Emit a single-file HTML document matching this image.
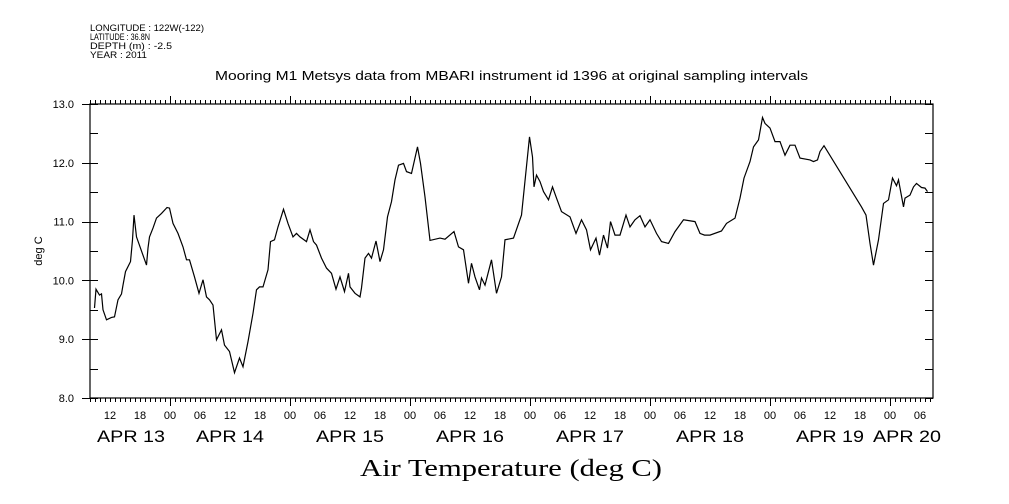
<!DOCTYPE html>
<html><head><meta charset="utf-8">
<style>
html,body{margin:0;padding:0;background:#fff;}
svg{display:block;}
text{font-family:"Liberation Sans",sans-serif;fill:#000;}
</style></head>
<body>
<svg id="chart" width="1009" height="504" viewBox="0 0 1009 504" xmlns="http://www.w3.org/2000/svg">
<g font-size="9">
<text x="90" y="31" textLength="114" lengthAdjust="spacingAndGlyphs">LONGITUDE : 122W(-122)</text>
<text x="90" y="40" textLength="60" lengthAdjust="spacingAndGlyphs">LATITUDE : 36.8N</text>
<text x="90" y="49" textLength="82" lengthAdjust="spacingAndGlyphs">DEPTH (m) : -2.5</text>
<text x="90" y="58" textLength="57" lengthAdjust="spacingAndGlyphs">YEAR : 2011</text>
</g>
<text x="215" y="80" font-size="13" textLength="593" lengthAdjust="spacingAndGlyphs">Mooring M1 Metsys data from MBARI instrument id 1396 at original sampling intervals</text>
<text x="42" y="251" font-size="11" text-anchor="middle" transform="rotate(-90 42 251)">deg C</text>
<text x="360" y="476" font-size="24" textLength="302" lengthAdjust="spacingAndGlyphs" style="font-family:'Liberation Serif',serif">Air Temperature (deg C)</text>
<g id="axes"></g>
<g id="series"></g>
</svg>
<script>
const hours=[0.9,1.2,1.9,2.3,2.6,3.3,4.3,4.9,5.6,6.3,6.6,7.1,8.1,8.5,8.8,9.3,11.3,11.6,11.9,12.6,13.3,14.3,15.4,15.9,16.6,17.6,18.6,19.3,19.9,20.9,21.8,22.6,23.3,23.9,24.6,25.3,26.3,26.9,27.9,28.9,29.9,30.6,31.6,32.6,33.3,33.9,34.6,35.6,36.1,36.9,37.6,38.7,39.6,40.6,41.3,42.0,43.3,44.0,44.7,45.3,46.3,47.3,48.3,49.2,50.0,50.9,51.7,52.0,53.0,54.0,54.3,55.0,55.7,56.3,57.2,58.0,58.7,59.5,60.3,61.0,61.7,62.7,63.3,64.3,65.5,66.1,67.0,68.0,70.0,71.0,72.8,73.7,74.7,75.7,76.3,77.0,77.9,78.3,79.0,80.3,81.3,82.3,83.0,84.7,86.3,87.9,88.5,88.8,89.3,90.0,90.7,91.7,92.5,93.3,94.3,96.0,97.2,98.3,99.3,100.1,101.2,101.9,102.7,103.5,104.1,105.0,106.0,107.2,108.0,109.0,110.0,111.0,112.0,113.3,114.3,115.7,117.0,118.7,121.0,122.0,122.9,124.0,126.3,127.3,129.0,130.0,130.8,132.0,132.7,133.7,134.5,135.0,136.0,137.0,138.0,139.0,140.0,141.0,142.0,144.0,144.7,145.5,146.0,146.8,154.3,155.2,156.0,156.7,157.7,158.7,159.7,160.5,161.3,161.7,162.7,163.0,164.0,164.7,165.3,166.3,167.0,167.5];
const temps=[9.53,9.85,9.75,9.77,9.50,9.33,9.37,9.38,9.67,9.77,9.92,10.15,10.32,10.69,11.11,10.74,10.26,10.55,10.74,10.89,11.06,11.14,11.24,11.23,10.97,10.80,10.57,10.35,10.35,10.06,9.78,10.01,9.72,9.67,9.58,8.99,9.16,8.90,8.79,8.43,8.68,8.53,8.96,9.44,9.84,9.89,9.89,10.18,10.66,10.69,10.91,11.21,10.97,10.74,10.80,10.74,10.66,10.86,10.66,10.60,10.38,10.21,10.12,9.85,10.06,9.81,10.12,9.89,9.78,9.72,9.87,10.38,10.46,10.38,10.67,10.32,10.52,11.08,11.34,11.71,11.96,11.99,11.85,11.82,12.27,11.99,11.42,10.68,10.72,10.70,10.83,10.57,10.52,9.95,10.29,10.06,9.84,10.04,9.92,10.35,9.78,10.06,10.69,10.72,11.11,12.44,12.10,11.59,11.79,11.68,11.51,11.37,11.59,11.40,11.17,11.08,10.80,11.03,10.86,10.52,10.72,10.43,10.77,10.55,11.00,10.77,10.77,11.11,10.91,11.03,11.10,10.91,11.03,10.80,10.66,10.63,10.83,11.03,11.00,10.80,10.77,10.77,10.84,10.97,11.06,11.40,11.74,12.02,12.27,12.39,12.77,12.67,12.59,12.36,12.36,12.13,12.30,12.30,12.08,12.05,12.02,12.05,12.19,12.29,11.25,11.11,10.63,10.26,10.69,11.31,11.37,11.74,11.61,11.71,11.25,11.40,11.45,11.59,11.65,11.58,11.57,11.51];
const yTicks=["8.0","9.0","10.0","11.0","12.0","13.0"];
const hourLabels=["12","18","00","06"];
const dayLabels=["APR 13","APR 14","APR 15","APR 16","APR 17","APR 18","APR 19","APR 20"];
const dayLabelHours=[8.2,28,52,76,100,124,148,163.4];

const X0=90,X1=933,Y0=398,Y1=104,HMAX=168.6,VMIN=8,VMAX=13;
function xs(h){return X0+(h/HMAX)*(X1-X0);}
function ys(v){return Y0-(v-VMIN)/(VMAX-VMIN)*(Y0-Y1);}
const NS="http://www.w3.org/2000/svg";
const axes=document.getElementById('axes');
function mk(tag,attrs,parent){const e=document.createElementNS(NS,tag);for(const k in attrs)e.setAttribute(k,attrs[k]);parent.appendChild(e);return e;}

const frame=mk('rect',{x:X0,y:Y1,width:X1-X0,height:Y0-Y1,fill:'none',stroke:'#000','stroke-width':1.2},axes);



let d='';
for(let h=0;h<=HMAX;h++){
  const x=Math.round(xs(h))+0.5;
  const major=((h+8)%24===0);
  const len=major?8:4;
  d+=`M${x} ${Y0}V${Y0+len}M${x} ${Y1}V${Y1-len}`;
}
for(let v=VMIN;v<=VMAX+0.001;v+=0.5){
  const y=Math.round(ys(v))+0.5;
  d+=`M${X0} ${y}h8M${X1} ${y}h-8`;
  if(Math.abs(v-Math.round(v))<0.01) d+=`M${X0} ${y}h-8`;
}
const tk=mk('path',{d:d,stroke:'#000','stroke-width':1,fill:'none'},axes);



yTicks.forEach((t)=>{
  const e=mk('text',{x:74,y:ys(parseFloat(t))+4,'font-size':11,'text-anchor':'end'},axes);
  e.textContent=t;
  
  
});
for(let h=4,i=0;h<=HMAX;h+=6,i++){
  const e=mk('text',{x:xs(h),y:419,'font-size':11,'text-anchor':'middle'},axes);
  e.textContent=hourLabels[i%4];
  
  
}
dayLabels.forEach((t,i)=>{
  const e=mk('text',{x:xs(dayLabelHours[i])-34,y:442,'font-size':17,textLength:68,lengthAdjust:'spacingAndGlyphs'},axes);
  e.textContent=t;
  
  
});

const pts=hours.map((h,i)=>xs(h).toFixed(1)+','+ys(temps[i]).toFixed(1)).join(' ');
const line=mk('polyline',{points:pts,fill:'none',stroke:'#000','stroke-width':1.2},document.getElementById('series'));


</script>
</body></html>
